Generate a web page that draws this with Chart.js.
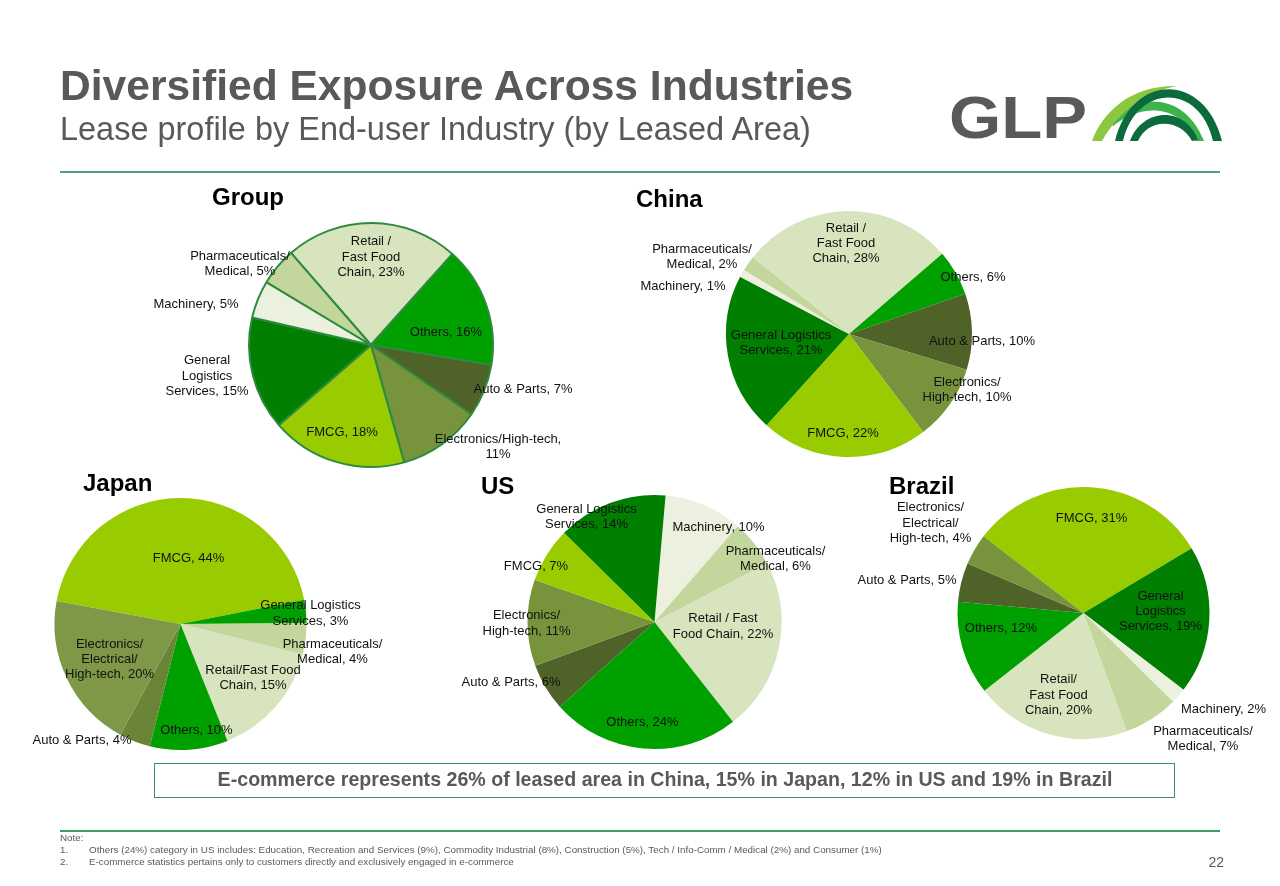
<!DOCTYPE html>
<html>
<head>
<meta charset="utf-8">
<script src="https://cdn.jsdelivr.net/npm/chart.js@4.4.1/dist/chart.umd.min.js"></script>
<style>
  html,body{margin:0;padding:0;background:#fff;}
  body{width:1280px;height:886px;overflow:hidden;position:relative;font-family:"Liberation Sans",Arial,Helvetica,sans-serif;}
  canvas.pie{position:absolute;left:0;top:0;}
  .rule{position:absolute;}
</style>
</head>
<body>
<div class="rule" style="left:60px;top:171px;width:1160px;height:2px;background:#52a07a;"></div>
<div class="rule" style="left:60px;top:830px;width:1160px;height:1.5px;background:#3f9d6a;"></div>
<div class="rule" style="left:154px;top:763px;width:1019px;height:33px;border:1.5px solid #3f8f68;"></div>
<canvas id="logo" width="150" height="65" style="position:absolute;left:1080px;top:80px;"></canvas>
<canvas id="cGroup" class="pie" width="1280" height="886"></canvas>
<canvas id="cChina" class="pie" width="1280" height="886"></canvas>
<canvas id="cJapan" class="pie" width="1280" height="886"></canvas>
<canvas id="cUS" class="pie" width="1280" height="886"></canvas>
<canvas id="cBrazil" class="pie" width="1280" height="886"></canvas>
<script>
// ---------------- DATA ----------------
const groupCategories = ['Retail / Fast Food Chain','Others','Auto & Parts','Electronics/High-tech','FMCG','General Logistics Services','Machinery','Pharmaceuticals/Medical'];
const groupValues = [23,16,7,11,18,15,5,5];

const chinaCategories = ['Retail / Fast Food Chain','Others','Auto & Parts','Electronics/High-tech','FMCG','General Logistics Services','Machinery','Pharmaceuticals/Medical'];
const chinaValues = [28,6,10,10,22,21,1,2];

const japanCategories = ['FMCG','General Logistics Services','Pharmaceuticals/Medical','Retail/Fast Food Chain','Others','Auto & Parts','Electronics/Electrical/High-tech'];
const japanValues = [44,3,4,15,10,4,20];

const usCategories = ['Machinery','Pharmaceuticals/Medical','Retail / Fast Food Chain','Others','Auto & Parts','Electronics/High-tech','FMCG','General Logistics Services'];
const usValues = [10,6,22,24,6,11,7,14];

const brazilCategories = ['FMCG','General Logistics Services','Machinery','Pharmaceuticals/Medical','Retail/Fast Food Chain','Others','Auto & Parts','Electronics/Electrical/High-tech'];
const brazilValues = [31,19,2,7,20,12,5,4];

// slice label texts ({v} = value)
const groupLabelText = ['Retail /\nFast Food\nChain, {v}%','Others, {v}%','Auto & Parts, {v}%','Electronics/High-tech,\n{v}%','FMCG, {v}%','General\nLogistics\nServices, {v}%','Machinery, {v}%','Pharmaceuticals/\nMedical, {v}%'];
const chinaLabelText = ['Retail /\nFast Food\nChain, {v}%','Others, {v}%','Auto & Parts, {v}%','Electronics/\nHigh-tech, {v}%','FMCG, {v}%','General Logistics\nServices, {v}%','Machinery, {v}%','Pharmaceuticals/\nMedical, {v}%'];
const japanLabelText = ['FMCG, {v}%','General Logistics\nServices, {v}%','Pharmaceuticals/\nMedical, {v}%','Retail/Fast Food\nChain, {v}%','Others, {v}%','Auto & Parts, {v}%','Electronics/\nElectrical/\nHigh-tech, {v}%'];
const usLabelText = ['Machinery, {v}%','Pharmaceuticals/\nMedical, {v}%','Retail / Fast\nFood Chain, {v}%','Others, {v}%','Auto & Parts, {v}%','Electronics/\nHigh-tech, {v}%','FMCG, {v}%','General Logistics\nServices, {v}%'];
const brazilLabelText = ['FMCG, {v}%','General\nLogistics\nServices, {v}%','Machinery, {v}%','Pharmaceuticals/\nMedical, {v}%','Retail/\nFast Food\nChain, {v}%','Others, {v}%','Auto & Parts, {v}%','Electronics/\nElectrical/\nHigh-tech, {v}%'];

// ---------------- STYLE / LAYOUT ----------------
const W = 1280, H = 886;
const C = {
  retail:'#d7e4bd', others:'#00a000', auto:'#4f6228', elec:'#77933c',
  fmcg:'#99cc00', genlog:'#007f00', mach:'#ebf1de', pharma:'#c3d69b'
};
const groupColors = [C.retail,C.others,C.auto,C.elec,C.fmcg,C.genlog,C.mach,C.pharma];
const chinaColors = [C.retail,C.others,C.auto,C.elec,C.fmcg,C.genlog,C.mach,C.pharma];
const japanColors = [C.fmcg,'#00a000',C.pharma,C.retail,C.others,'#6a8536','#7e9848'];
const usColors = [C.mach,C.pharma,C.retail,C.others,C.auto,C.elec,C.fmcg,C.genlog];
const brazilColors = [C.fmcg,C.genlog,C.mach,C.pharma,C.retail,C.others,C.auto,C.elec];

// label offsets from pie centre (px)
const groupLabelPos = [[0,-88],[75,-13],[152,44],[127,102],[-29,87],[-164,31],[-175,-41],[-131,-81]];
const chinaLabelPos = [[-3,-90.5],[124,-57],[133,7],[118,56],[-6,99],[-68,9],[-166,-48],[-147,-77]];
const japanLabelPos = [[8,-66],[130,-10.5],[152,28],[72.5,54],[16,106],[-98.5,116],[-71,35.5]];
const usLabelPos = [[64,-94.5],[121,-63],[68.5,4.5],[-12,100],[-143.5,60.5],[-128,1.5],[-118.5,-55.5],[-68,-105]];
const brazilLabelPos = [[8,-95],[77,-1.5],[140,96],[119.5,126],[-25,82],[-82.5,15],[-176.5,-32.5],[-153,-90]];

const FAM = '"Liberation Sans", Arial, Helvetica, sans-serif';
Chart.defaults.font.family = FAM;

const labelPlugin = {
  id: 'sliceLabels',
  afterDatasetsDraw(chart, args, opts) {
    const meta = chart.getDatasetMeta(0);
    if (!meta.data.length) return;
    const cx = meta.data[0].x, cy = meta.data[0].y;
    const ctx = chart.ctx;
    ctx.save();
    ctx.font = '13px ' + FAM;
    ctx.fillStyle = '#111';
    ctx.textAlign = 'center';
    ctx.textBaseline = 'middle';
    const vals = chart.data.datasets[0].data;
    opts.texts.forEach((t, i) => {
      const lines = t.replace('{v}', vals[i]).split('\n');
      const [dx, dy] = opts.offsets[i];
      const lh = 15.3;
      lines.forEach((ln, k) => {
        ctx.fillText(ln, cx + dx, cy + dy + (k - (lines.length - 1) / 2) * lh);
      });
    });
    ctx.restore();
  }
};

function makePie(id, cats, vals, colors, rotation, cx, cy, r, texts, offsets, bColor, bWidth) {
  new Chart(document.getElementById(id), {
    type: 'pie',
    data: { labels: cats, datasets: [{ data: vals, backgroundColor: colors, borderColor: bColor, borderWidth: bWidth }] },
    options: {
      responsive: false, animation: false, events: [],
      rotation: rotation, radius: r,
      layout: { padding: { left: cx - r, right: W - cx - r, top: cy - r, bottom: H - cy - r } },
      plugins: { legend: { display: false }, tooltip: { enabled: false }, sliceLabels: { texts: texts, offsets: offsets } }
    },
    plugins: [labelPlugin]
  });
}

makePie('cGroup', groupCategories, groupValues, groupColors, -41, 371, 345, 122, groupLabelText, groupLabelPos, '#2e8b3e', 2);
makePie('cChina', chinaCategories, chinaValues, chinaColors, -51.5, 849, 334, 123, chinaLabelText, chinaLabelPos, '#ffffff', 0);
makePie('cJapan', japanCategories, japanValues, japanColors, -79.5, 180.5, 624, 126, japanLabelText, japanLabelPos, '#ffffff', 0);
makePie('cUS', usCategories, usValues, usColors, 5, 654.5, 622, 127, usLabelText, usLabelPos, '#ffffff', 0);
makePie('cBrazil', brazilCategories, brazilValues, brazilColors, -52.5, 1083.5, 613, 126, brazilLabelText, brazilLabelPos, '#ffffff', 0);

// ---------------- TEXT ----------------
const mctx = document.createElement('canvas').getContext('2d');
function place(text, o) {
  const weight = o.weight || 'normal';
  const fam = o.family || FAM;
  let fs = o.size, sx = 1;
  if (o.width) {
    mctx.font = weight + ' ' + o.size + 'px ' + fam;
    const w = mctx.measureText(text).width;
    if (o.mode === 'scale') sx = o.width / w; else fs = o.size * o.width / w;
  }
  const el = document.createElement('div');
  el.textContent = text;
  el.style.position = 'absolute';
  el.style.whiteSpace = 'nowrap';
  el.style.font = weight + ' ' + fs + 'px ' + fam;
  el.style.lineHeight = fs + 'px';
  el.style.color = o.color || '#595959';
  el.style.top = (o.baseline - 0.8465 * fs) + 'px';
  const align = o.align || 'left';
  let tf = '';
  if (align === 'left') { el.style.left = o.x + 'px'; el.style.transformOrigin = 'left center'; }
  else if (align === 'center') { el.style.left = o.x + 'px'; tf = 'translateX(-50%) '; el.style.transformOrigin = 'left center'; }
  else { el.style.right = (W - o.x) + 'px'; el.style.transformOrigin = 'right center'; }
  if (sx !== 1) tf += 'scaleX(' + sx + ')';
  if (tf) el.style.transform = tf;
  document.body.appendChild(el);
  return fs;
}

place('Diversified Exposure Across Industries', {x:60, baseline:100, size:42, weight:'bold', width:795});
place('Lease profile by End-user Industry (by Leased Area)', {x:60, baseline:140, size:32, width:753});
place('GLP', {x:949, baseline:139, size:60, weight:'bold', width:138, mode:'scale', color:'#58595b'});

place('Group', {x:212, baseline:205, size:24, weight:'bold', color:'#000'});
place('China', {x:636, baseline:207, size:24, weight:'bold', color:'#000'});
place('Japan', {x:83, baseline:491, size:24, weight:'bold', color:'#000'});
place('US', {x:481, baseline:494, size:24, weight:'bold', color:'#000'});
place('Brazil', {x:889, baseline:494, size:24, weight:'bold', color:'#000'});

place('E-commerce represents 26% of leased area in China, 15% in Japan, 12% in US and 19% in Brazil', {x:665, baseline:787, size:19.5, weight:'bold', width:895, align:'center'});

const nfs = place('Others (24%) category in US includes: Education, Recreation and Services (9%), Commodity Industrial (8%), Construction (5%), Tech / Info-Comm / Medical (2%) and Consumer (1%)', {x:89, baseline:853, size:9.5, width:794});
place('Note:', {x:60, baseline:841, size:nfs});
place('1.', {x:60, baseline:853, size:nfs});
place('2.', {x:60, baseline:865, size:nfs});
place('E-commerce statistics pertains only to customers directly and exclusively engaged in e-commerce', {x:89, baseline:865, size:nfs});
place('22', {x:1224, baseline:867, size:14, align:'right'});

// ---------------- LOGO ARCS ----------------
(function(){
  const c = document.getElementById('logo').getContext('2d');
  function shape(col, f){ c.fillStyle = col; c.beginPath(); f(); c.closePath(); c.fill(); }
  // medium green band
  shape('#3cb44b', () => { c.moveTo(27,41); c.bezierCurveTo(55,14,104,10,124,61); c.lineTo(116,61); c.bezierCurveTo(100,24,62,23,33,46); });
  // light green crescent
  shape('#8dc63f', () => { c.moveTo(12,61); c.bezierCurveTo(23,31,52,5,97,6); c.bezierCurveTo(66,12,39,31,22,61); });
  // big dark arc
  shape('#0b6b3c', () => { c.moveTo(35,61); c.bezierCurveTo(52,-8,125,-8,142,61); c.lineTo(133,61); c.bezierCurveTo(120,3,57,3,43,61); });
  // small dark arc
  shape('#0b6b3c', () => { c.moveTo(50,61); c.bezierCurveTo(62,28,105,25,118,60); c.lineTo(112,61); c.bezierCurveTo(100,38,68,38,58,61); });
})();
</script>
</body>
</html>
